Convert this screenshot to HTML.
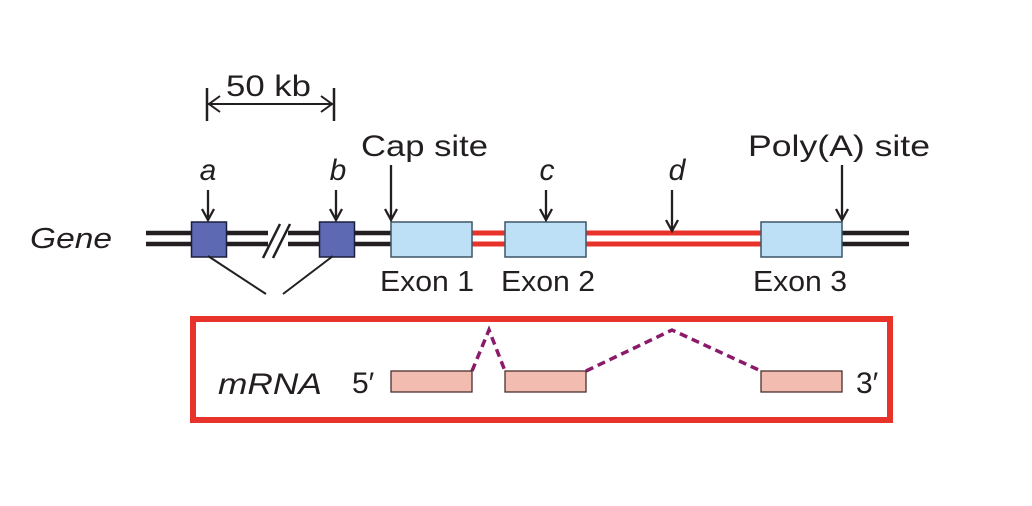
<!DOCTYPE html>
<html><head><meta charset="utf-8"><style>
html,body{margin:0;padding:0;background:#fff;width:1032px;height:506px;overflow:hidden}
text{font-family:"Liberation Sans",sans-serif;fill:#231f20}
</style></head><body>
<svg width="1032" height="506" viewBox="0 0 1032 506" xmlns="http://www.w3.org/2000/svg">
<!-- 50 kb scale -->
<line x1="207" y1="88" x2="207" y2="121" stroke="#231f20" stroke-width="2.5"/>
<line x1="334" y1="88" x2="334" y2="121" stroke="#231f20" stroke-width="2.5"/>
<line x1="208" y1="104" x2="333" y2="104" stroke="#231f20" stroke-width="2"/>
<path d="M220,96 L209,104 L220,112" fill="none" stroke="#231f20" stroke-width="2"/>
<path d="M321,96 L332,104 L321,112" fill="none" stroke="#231f20" stroke-width="2"/>
<text x="226" y="96" font-size="30" textLength="85" lengthAdjust="spacingAndGlyphs">50 kb</text>

<text x="361" y="156" font-size="30" textLength="127" lengthAdjust="spacingAndGlyphs">Cap site</text>
<text x="748" y="156" font-size="30" textLength="182" lengthAdjust="spacingAndGlyphs">Poly(A) site</text>
<text x="208" y="180" font-size="30" font-style="italic" text-anchor="middle">a</text>
<text x="338" y="180" font-size="30" font-style="italic" text-anchor="middle">b</text>
<text x="547" y="180" font-size="30" font-style="italic" text-anchor="middle">c</text>
<text x="677" y="180" font-size="30" font-style="italic" text-anchor="middle">d</text>
<text x="30" y="248" font-size="29" font-style="italic" textLength="82" lengthAdjust="spacingAndGlyphs">Gene</text>

<!-- gene black lines -->
<line x1="146" y1="233" x2="391" y2="233" stroke="#231f20" stroke-width="4.5"/>
<line x1="146" y1="244" x2="391" y2="244" stroke="#231f20" stroke-width="4.5"/>
<line x1="842" y1="233" x2="909" y2="233" stroke="#231f20" stroke-width="4.5"/>
<line x1="842" y1="244" x2="909" y2="244" stroke="#231f20" stroke-width="4.5"/>
<!-- break marks -->
<rect x="268" y="228" width="20" height="20" fill="#fff"/>
<line x1="263" y1="258" x2="280" y2="224" stroke="#231f20" stroke-width="2.5"/>
<line x1="273" y1="258" x2="290" y2="224" stroke="#231f20" stroke-width="2.5"/>
<!-- red introns -->
<line x1="472" y1="233" x2="505" y2="233" stroke="#e8332a" stroke-width="5"/>
<line x1="472" y1="244" x2="505" y2="244" stroke="#e8332a" stroke-width="5"/>
<line x1="586" y1="233" x2="764" y2="233" stroke="#e8332a" stroke-width="5"/>
<line x1="586" y1="244" x2="764" y2="244" stroke="#e8332a" stroke-width="5"/>
<!-- boxes -->
<rect x="191.5" y="222" width="35" height="35" fill="#5d69b3" stroke="#1b1f3a" stroke-width="1.5"/>
<rect x="319.5" y="222" width="35" height="35" fill="#5d69b3" stroke="#1b1f3a" stroke-width="1.5"/>
<rect x="391" y="222" width="81" height="35" fill="#bde0f7" stroke="#3d5566" stroke-width="1.5"/>
<rect x="505" y="222" width="81" height="35" fill="#bde0f7" stroke="#3d5566" stroke-width="1.5"/>
<rect x="761" y="222" width="81" height="35" fill="#bde0f7" stroke="#3d5566" stroke-width="1.5"/>
<!-- lines from boxes -->
<line x1="208" y1="256" x2="266" y2="294" stroke="#231f20" stroke-width="2"/>
<line x1="333" y1="256" x2="283" y2="294" stroke="#231f20" stroke-width="2"/>
<!-- arrows -->
<g stroke="#231f20" stroke-width="2.3" fill="none">
<line x1="208" y1="190" x2="208" y2="220"/><path d="M202,209 L208,220 L214,209"/>
<line x1="336" y1="190" x2="336" y2="220"/><path d="M330,209 L336,220 L342,209"/>
<line x1="391" y1="165" x2="391" y2="220"/><path d="M385,209 L391,220 L397,209"/>
<line x1="546" y1="190" x2="546" y2="220"/><path d="M540,209 L546,220 L552,209"/>
<line x1="672" y1="190" x2="672" y2="231"/><path d="M666,220 L672,231 L678,220"/>
<line x1="842" y1="165" x2="842" y2="220"/><path d="M836,209 L842,220 L848,209"/>
</g>
<!-- exon labels -->
<text x="380" y="291" font-size="29" textLength="94" lengthAdjust="spacingAndGlyphs">Exon 1</text>
<text x="501" y="291" font-size="29" textLength="94" lengthAdjust="spacingAndGlyphs">Exon 2</text>
<text x="753" y="291" font-size="29" textLength="94" lengthAdjust="spacingAndGlyphs">Exon 3</text>
<!-- mRNA box -->
<rect x="193" y="319" width="697" height="101" fill="none" stroke="#e8332a" stroke-width="6"/>
<text x="218" y="394" font-size="30" font-style="italic" textLength="104" lengthAdjust="spacingAndGlyphs">mRNA</text>
<text x="352" y="393" font-size="30">5′</text>
<text x="856" y="393" font-size="30">3′</text>
<path d="M472,371 L489,330 L505,371 M586,371 L672,330 L761,371" fill="none" stroke="#8b1a6b" stroke-width="3.5" stroke-dasharray="8,5"/>
<rect x="391" y="371" width="81" height="21" fill="#f2bcb0" stroke="#4a3030" stroke-width="1.3"/>
<rect x="505" y="371" width="81" height="21" fill="#f2bcb0" stroke="#4a3030" stroke-width="1.3"/>
<rect x="761" y="371" width="81" height="21" fill="#f2bcb0" stroke="#4a3030" stroke-width="1.3"/>
</svg>
</body></html>
